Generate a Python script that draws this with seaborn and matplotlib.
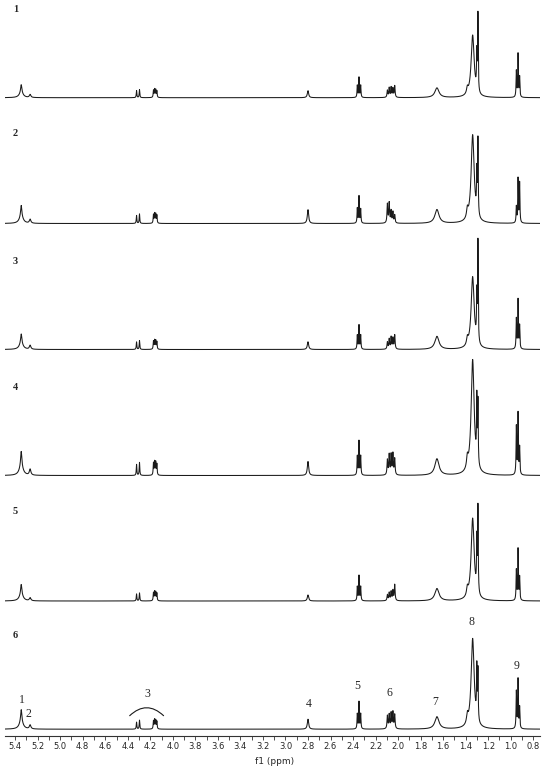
import numpy as np
import pandas as pd
import matplotlib.pyplot as plt
import seaborn as sns
from matplotlib.ticker import MultipleLocator, FormatStrFormatter

sns.set_style('white')
plt.rcParams['font.family'] = ['DejaVu Sans']

# Line positions (ppm) and half widths (ppm) of the resonances
shifts = [5.346, 5.346, 5.267,
          4.322, 4.296,
          4.172, 4.162, 4.152, 4.142,
          2.800,
          2.362, 2.347, 2.332,
          2.095, 2.079, 2.062, 2.046, 2.030,
          1.655,
          1.385, 1.338, 1.301, 1.291,
          0.950, 0.935, 0.921]
widths = [0.006, 0.020, 0.008,
          0.003, 0.003,
          0.003, 0.003, 0.003, 0.003,
          0.007,
          0.003, 0.003, 0.003,
          0.004, 0.004, 0.004, 0.004, 0.004,
          0.022,
          0.008, 0.016, 0.003, 0.003,
          0.003, 0.003, 0.003]

# Line intensities for each sample
amp_1 = [7.8, 5.2, 3, 7, 8, 7, 8, 7.5, 6.5, 7, 12, 20, 12,
         7, 9.5, 10, 9, 11.5, 9.7, 6, 62, 36, 77, 26, 43, 20]
amp_2 = [10.8, 7.2, 4, 8, 9.5, 8.5, 9.5, 9, 8, 13.8, 15, 27, 14,
         19, 20, 12, 11, 8, 13.8, 9, 88, 40, 75, 16, 44, 40]
amp_3 = [9.3, 6.2, 4, 7.5, 8.8, 8, 8.8, 8.5, 7.5, 7.7, 14, 24, 14,
         7, 10, 12, 11, 14, 13, 7, 72, 45, 100, 30, 49, 23]
amp_4 = [14.4, 9.6, 6, 11, 13, 12, 13, 12.5, 11, 14, 19, 34, 19,
         15, 20, 20, 21, 16, 16.5, 11, 115, 62, 62, 48, 61, 27]
amp_5 = [9.9, 6.6, 3, 7, 8, 8, 8.8, 8.5, 7.5, 6, 14, 25, 14,
         6, 8, 9, 10, 16, 12.3, 8, 82, 50, 85, 30, 51, 23]
amp_6 = [11.7, 7.8, 4, 7, 9, 8, 9, 8.5, 7.5, 10, 15, 27, 15,
         13, 14, 15.5, 16.5, 14, 12.3, 9, 90, 50, 50, 37, 49, 21]

samples = ['1', '2', '3', '4', '5', '6']
amps = [amp_1, amp_2, amp_3, amp_4, amp_5, amp_6]
offsets = [638.3, 512.5, 386.5, 260.5, 135, 6.8]
label_y = [726.7, 602, 475, 349, 224, 101]

# peak assignment labels on the bottom trace
peak_labels = ['1', '2', '3', '4', '5', '6', '7', '8', '9']
peak_label_x = [5.343, 5.28, 4.224, 2.795, 2.362, 2.075, 1.675, 1.347, 0.944]
peak_label_y = [36, 22, 42, 32, 50, 43, 34, 114, 70]

ppm = np.linspace(5.49, 0.74, 9500)
frames = []
for name, amp, off in zip(samples, amps, offsets):
    y = np.zeros_like(ppm)
    for x0, w, a in zip(shifts, widths, amp):
        y += a / (1 + ((ppm - x0) / w) ** 2)
    frames.append(pd.DataFrame({'ppm': ppm, 'intensity': y + off, 'sample': name}))
df = pd.concat(frames)

fig = plt.figure(figsize=(5.5, 7.67), dpi=100)
ax = fig.add_axes([5 / 550, 31 / 767, 535 / 550, 736 / 767])

for name in samples:
    sns.lineplot(data=df[df['sample'] == name], x='ppm', y='intensity',
                 color='#1a1a1a', linewidth=0.75, estimator=None, sort=False, ax=ax)

ax.set_xlim(5.49, 0.74)
ax.set_ylim(0, 736)
ax.set_xlabel('')
ax.set_ylabel('')
ax.set_yticks([])
for side in ['left', 'right', 'top']:
    ax.spines[side].set_visible(False)
ax.spines['bottom'].set_color('#333333')
ax.spines['bottom'].set_linewidth(0.8)
ax.xaxis.set_major_locator(MultipleLocator(0.2))
ax.xaxis.set_minor_locator(MultipleLocator(0.1))
ax.xaxis.set_major_formatter(FormatStrFormatter('%.1f'))
ax.tick_params(axis='x', which='both', direction='out', length=3, width=0.6,
               pad=1, labelsize=6, color='#333333', bottom=True)

for name, ly in zip(samples, label_y):
    ax.text(5.396, ly, name, ha='center', va='center', fontsize=7.5,
            fontweight='bold', family=['Liberation Serif'])

for t, lx, ly in zip(peak_labels, peak_label_x, peak_label_y):
    ax.text(lx, ly, t, ha='center', va='center', fontsize=8.5,
            family=['Liberation Serif'])

# bracket over the glycerol CH2 signals
ax.annotate('', xy=(4.082, 20.3), xytext=(4.383, 20.3),
            arrowprops=dict(arrowstyle='-', color='#1a1a1a', linewidth=0.8,
                            shrinkA=0, shrinkB=0,
                            connectionstyle='arc3,rad=-0.47'))

fig.text(275 / 550, 1 - 762 / 767, 'f1 (ppm)', ha='center', va='center', fontsize=6.5)

fig.savefig('out.png', dpi=100)
